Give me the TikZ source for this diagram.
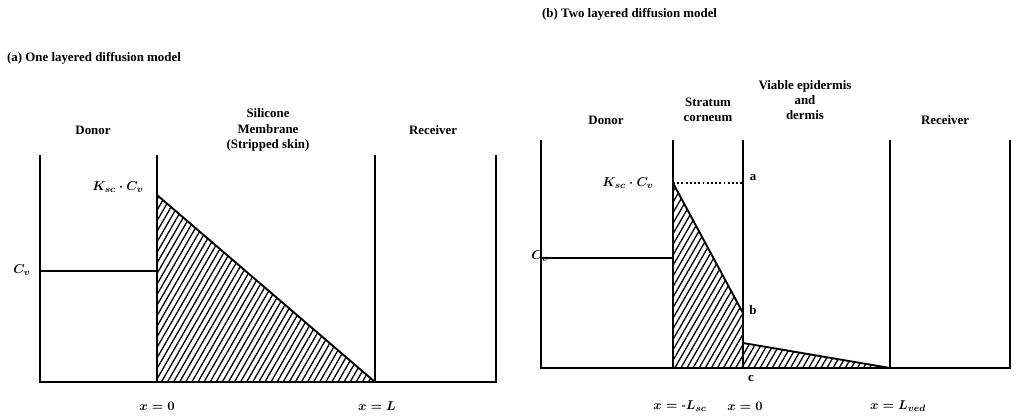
\documentclass[tikz,border=0pt]{standalone}
\usepackage{amsmath}
\usepackage{fontspec}
\setmainfont{Liberation Serif}
\usetikzlibrary{patterns.meta}
\begin{document}
\begin{tikzpicture}[x=0.03cm,y=-0.03cm,
  wall/.style={line width=1.6pt},
  hatch/.style={line width=1.6pt,pattern={Lines[angle=60,distance=4.5pt,line width=1.1pt]}},
  lab/.style={font=\bfseries\fontsize{11}{13}\selectfont,align=center},
  mlab/.style={font=\fontsize{11}{13}\selectfont\bfseries}]
\useasboundingbox (0,0) rectangle (1024,419);
% panel a
\node[lab,anchor=west] (ta) at (3,58) {(a) One layered diffusion model};
\coordinate (a1) at (40,155); \coordinate (a1b) at (40,382);
\coordinate (a4) at (496,155); \coordinate (a4b) at (496,382);
\draw[wall] (a1) -- (a1b) -- (a4b) -- (a4);
\coordinate (a2) at (157,155); \coordinate (a2b) at (157,382);
\coordinate (a3) at (375,155); \coordinate (a3b) at (375,382);
\draw[wall] (a2) -- (a2b); \draw[wall] (a3) -- (a3b);
\coordinate (cva) at (40,271); \coordinate (cvb) at (157,271);
\draw[wall] (cva) -- (cvb);
\coordinate (ta1) at (157,195);
\draw[hatch] (ta1) -- (a3b) -- (a2b) -- cycle;
\node[lab] (da) at (93,130) {Donor};
\node[lab] (sm) at (268,130) {Silicone\\Membrane\\(Stripped skin)};
\node[lab] (ra) at (433,130) {Receiver};
\node[mlab] (ka) at (118,187) {$\boldsymbol{K_{sc}\cdot C_v}$};
\node[mlab] (cv1) at (22,270) {$\boldsymbol{C_v}$};
\node[mlab] (x0a) at (157,406) {$\boldsymbol{x=0}$};
\node[mlab] (xla) at (377,406) {$\boldsymbol{x=L}$};
% panel b
\node[lab,anchor=west] (tb) at (538,14) {(b) Two layered diffusion model};
\coordinate (b1) at (541,140); \coordinate (b1b) at (541,368);
\coordinate (b5) at (1010,140); \coordinate (b5b) at (1010,368);
\draw[wall] (b1) -- (b1b) -- (b5b) -- (b5);
\coordinate (b2) at (673,140); \coordinate (b2b) at (673,368);
\coordinate (b3) at (743,140); \coordinate (b3b) at (743,368);
\coordinate (b4) at (890,140); \coordinate (b4b) at (890,368);
\draw[wall] (b2) -- (b2b); \draw[wall] (b3) -- (b3b); \draw[wall] (b4) -- (b4b);
\coordinate (cvc) at (541,258); \coordinate (cvd) at (673,258);
\draw[wall] (cvc) -- (cvd);
\coordinate (pa) at (673,183); \coordinate (pb) at (743,313); \coordinate (pc) at (743,343);
\draw[hatch] (pa) -- (pb) -- (b3b) -- (b2b) -- cycle;
\draw[hatch] (pc) -- (b4b) -- (b3b) -- cycle;
\coordinate (da2) at (743,183);
\draw[line width=1.6pt,dotted] (pa) -- (da2);
\node[lab] (db) at (606,120) {Donor};
\node[lab] (sc) at (708,110) {Stratum\\corneum};
\node[lab] (ve) at (805,100) {Viable epidermis\\and\\dermis};
\node[lab] (rb) at (945,120) {Receiver};
\node[mlab] (kb) at (628,183) {$\boldsymbol{K_{sc}\cdot C_v}$};
\node[mlab] (cv2) at (540,256) {$\boldsymbol{C_v}$};
\node[lab] (la) at (753,178) {a};
\node[lab] (lb) at (753,310) {b};
\node[lab] (lc) at (751,379) {c};
\node[mlab] (xlsc) at (680,406) {$\boldsymbol{x=\text{-}L_{sc}}$};
\node[mlab] (x0b) at (745,406) {$\boldsymbol{x=0}$};
\node[mlab] (xlv) at (898,406) {$\boldsymbol{x=L_{ved}}$};
\end{tikzpicture}
\end{document}
